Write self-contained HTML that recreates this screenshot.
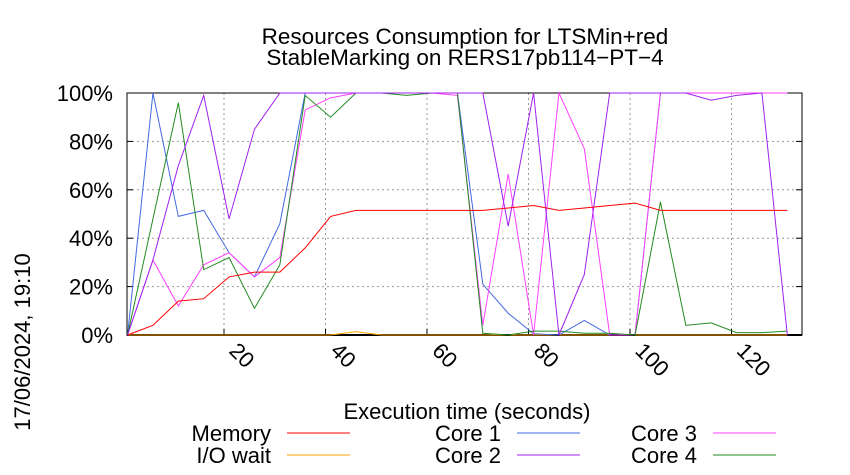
<!DOCTYPE html>
<html><head><meta charset="utf-8"><style>
body{margin:0;background:#fff}
svg{display:block;font-family:"Liberation Sans",sans-serif}
</style></head><body>
<svg id="chart" width="850" height="475">
<text x="465" y="44" font-size="22.5" text-anchor="middle">Resources Consumption for LTSMin+red</text>
<text x="465" y="65" font-size="22.5" text-anchor="middle">StableMarking on RERS17pb114−PT−4</text>
<text transform="translate(30,342) rotate(-90)" font-size="22" text-anchor="middle">17/06/2024, 19:10</text>
<text x="467" y="419" font-size="22" text-anchor="middle">Execution time (seconds)</text>
<g id="grid"></g><g id="axes"></g><g id="series"></g><g id="legend"></g>
</svg>
<script>
const times=[1,6,11,16,21,26,31,36,41,46,51,56,61,66,71,76,81,86,91,96,101,106,111,116,121,126,131];
const memory=[0,4,14,15,24,26,26,36,49,51.5,51.5,51.5,51.5,51.5,51.5,52.5,53.5,51.5,52.5,53.5,54.5,51.5,51.5,51.5,51.5,51.5,51.5];
const ioWait=[0,0,0,0,0,0,0,0,0,1.4,0,0,0,0,0,0,0,0,0,0,0,0,0,0,0,0,0];
const core1=[0,100,49,51.5,34,24,46,100,100,100,100,100,100,100,21,9,0.5,0,6,0,0,100,100,100,100,100,100];
const core2=[0,31,70,99,48,85,100,100,100,100,100,100,100,100,100,45,100,0,25,100,100,100,100,97,99,100,0];
const core3=[0,31,12,29,34,24,32,93,98,100,100,100,100,99,4,66.5,0,100,77,0,0,100,100,100,100,100,100];
const core4=[0,48,96,27,32,11,29,99,90,100,100,99,100,100,0.7,0,1.6,1.6,0.7,0.7,0,55,4,5,1,1,1.6];
const yTicks=[0,20,40,60,80,100];
const xTicks=[20,40,60,80,100,120];
const seriesNames=["Memory","I/O wait","Core 1","Core 2","Core 3","Core 4"];
const seriesColors=["#ff0000","#ffa500","#4169e1","#a020f0","#ff40ff","#228b22"];
const NS="http://www.w3.org/2000/svg";
const L=127,R=802,T=93,B=335,X0=122.5,PX=5.075;
const xs=t=>X0+t*PX, ys=v=>B-(B-T)*v/100;
function mk(tag,attrs,parent,text){const e=document.createElementNS(NS,tag);for(const k in attrs)e.setAttribute(k,attrs[k]);if(text!==undefined)e.textContent=text;parent.appendChild(e);return e;}
const grid=document.getElementById('grid'),axes=document.getElementById('axes'),ser=document.getElementById('series'),leg=document.getElementById('legend');
yTicks.forEach(v=>{
 if(v>0&&v<100){const g=mk('line',{x1:L,x2:R,y1:ys(v),y2:ys(v),stroke:'#999','stroke-dasharray':'2,3'},grid);
 
 }
 const t=mk('text',{x:113,y:ys(v)+8,'font-size':22,'text-anchor':'end'},axes,v+'%');
 
 
 mk('line',{x1:L,x2:L+6,y1:ys(v),y2:ys(v),stroke:'#000'},axes);
 mk('line',{x1:R-6,x2:R,y1:ys(v),y2:ys(v),stroke:'#000'},axes);
});
xTicks.forEach(v=>{
 const g=mk('line',{x1:xs(v),x2:xs(v),y1:T,y2:B,stroke:'#999','stroke-dasharray':'2,3'},grid);
 
 
 mk('line',{x1:xs(v),x2:xs(v),y1:B,y2:B-6,stroke:'#000'},axes);
 const t=mk('text',{transform:`translate(${xs(v)+4},${B+17}) rotate(45)`,'font-size':22},axes,String(v));
 
 
});
const frame=mk('rect',{x:L,y:T,width:R-L,height:B-T,fill:'none',stroke:'#000'},axes);


mk('line',{x1:L,x2:R,y1:B,y2:B,stroke:'#000','stroke-width':2},axes);
const data=[memory,ioWait,core1,core2,core3,core4];
const order=[1,2,4,5,3,0];
order.forEach(i=>{
 const p=mk('polyline',{points:data[i].map((v,j)=>xs(times[j])+','+ys(v)).join(' '),fill:'none',stroke:seriesColors[i],'stroke-width':1},ser);
 
 
});
const legPos=[[271,441],[271,463],[501,441],[501,463],[697,441],[697,463]];
seriesNames.forEach((n,i)=>{
 const [x,y]=legPos[i];
 const t=mk('text',{x:x,y:y,'font-size':22,'text-anchor':'end'},leg,n);
 
 
 const l=mk('line',{x1:x+16,x2:x+79,y1:y-8,y2:y-8,stroke:seriesColors[i]},leg);
 
 
});
</script>
</body></html>
